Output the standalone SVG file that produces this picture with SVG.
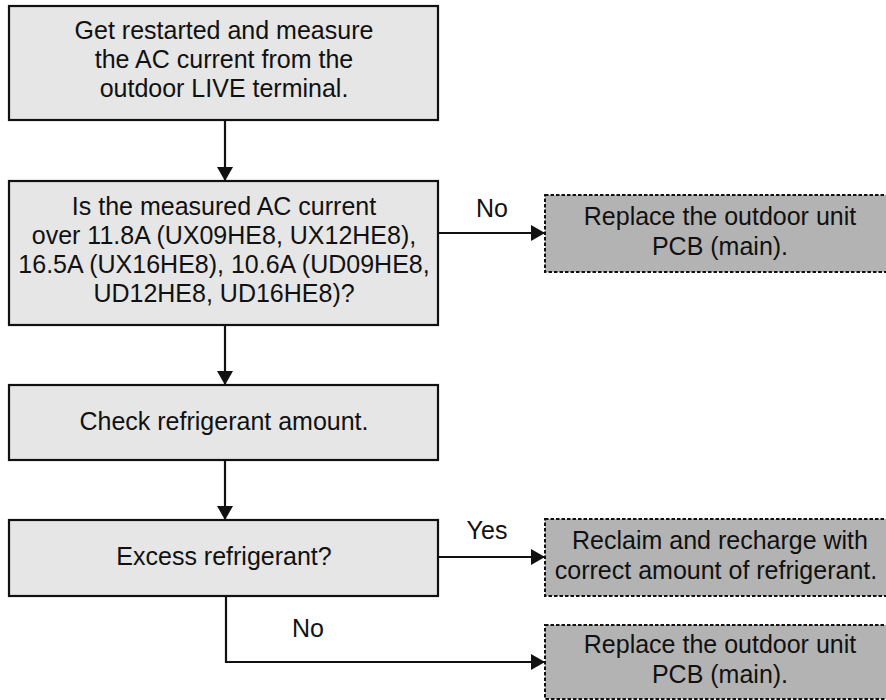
<svg xmlns="http://www.w3.org/2000/svg" width="886" height="700" viewBox="0 0 886 700">
<style>
.box{fill:#e6e6e6;stroke:#111;stroke-width:2.2}
.res{fill:#b3b3b3;stroke:#111;stroke-width:2;stroke-dasharray:3.5,2}
.t{font-family:"Liberation Sans",Arial,sans-serif;font-size:25px;fill:#111;text-anchor:middle}
.c{fill:none;stroke:#111;stroke-width:2.2}
</style>
<defs>
<marker id="ah" markerWidth="16" markerHeight="16" refX="14" refY="8" orient="auto" markerUnits="userSpaceOnUse">
<path d="M0,0 L14,8 L0,16 Z" fill="#111"/>
</marker>
</defs>
<g id="n1">
<rect class="box" x="9" y="6" width="429" height="114"/>
<text class="t" x="224" y="39">Get restarted and measure</text>
<text class="t" x="224" y="68">the AC current from the</text>
<text class="t" x="224" y="97">outdoor LIVE terminal.</text>
</g>
<g id="n2">
<rect class="box" x="9" y="181" width="429" height="144"/>
<text class="t" x="224" y="215">Is the measured AC current</text>
<text class="t" x="224" y="244">over 11.8A (UX09HE8, UX12HE8),</text>
<text class="t" x="224" y="273">16.5A (UX16HE8), 10.6A (UD09HE8,</text>
<text class="t" x="224" y="302">UD12HE8, UD16HE8)?</text>
</g>
<g id="n3">
<rect class="res" x="545" y="195" width="350" height="77"/>
<text class="t" x="720" y="225">Replace the outdoor unit</text>
<text class="t" x="720" y="255">PCB (main).</text>
</g>
<g id="n4">
<rect class="box" x="9" y="385" width="429" height="75"/>
<text class="t" x="224" y="430">Check refrigerant amount.</text>
</g>
<g id="n5">
<rect class="box" x="9" y="520" width="429" height="76"/>
<text class="t" x="224" y="565">Excess refrigerant?</text>
</g>
<g id="n6">
<rect class="res" x="545" y="519" width="350" height="77"/>
<text class="t" x="720" y="549">Reclaim and recharge with</text>
<text class="t" x="716" y="579">correct amount of refrigerant.</text>
</g>
<g id="n7">
<rect class="res" x="545" y="625" width="350" height="74"/>
<text class="t" x="720" y="653">Replace the outdoor unit</text>
<text class="t" x="720" y="683">PCB (main).</text>
</g>
<g id="connectors">
<line class="c" x1="225" y1="120" x2="225" y2="181" marker-end="url(#ah)"/>
<line class="c" x1="225" y1="325" x2="225" y2="385" marker-end="url(#ah)"/>
<line class="c" x1="225" y1="460" x2="225" y2="520" marker-end="url(#ah)"/>
<line class="c" x1="438" y1="233" x2="545" y2="233" marker-end="url(#ah)"/>
<line class="c" x1="438" y1="557" x2="545" y2="557" marker-end="url(#ah)"/>
<polyline class="c" points="226,596 226,662 545,662" marker-end="url(#ah)"/>
<text class="t" x="492" y="217">No</text>
<text class="t" x="487" y="539">Yes</text>
<text class="t" x="308" y="637">No</text>
</g>
</svg>
